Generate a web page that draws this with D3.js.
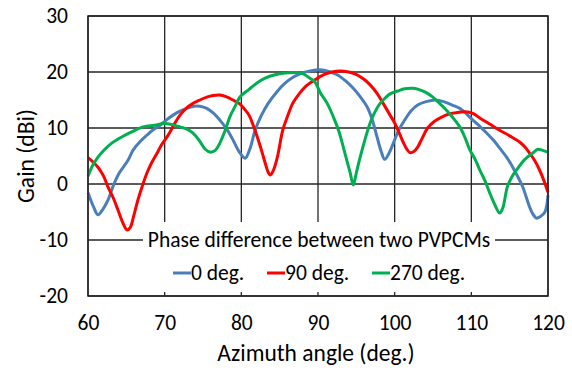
<!DOCTYPE html>
<html>
<head>
<meta charset="utf-8">
<script src="https://cdn.jsdelivr.net/npm/d3@7"></script>
<style>
  body { margin: 0; background: #fff; }
  svg { font-family: Carlito, "Open Sans", sans-serif; }
</style>
</head>
<body>
<svg id="chart" width="572" height="370"></svg>
<script>
// gain vs azimuth angle, one [angle, gain] list per phase difference
const deg0 = [
  [60,-1.5],[60.7,-4],[61.3,-5.5],[61.9,-4.6],[62.6,-2.9],[63.3,-0.3],[64,1.8],[65.2,4.2],[65.9,6.1],
  [66.8,7.6],[67.7,8.75],[68.5,9.7],[69.4,10.5],[70.2,11.4],[71.1,12.3],[72,13],[72.9,13.5],[73.8,13.9],
  [74.6,13.9],[75.5,13.5],[76.4,12.6],[77.2,11.4],[78.1,9.8],[78.9,7.9],[79.7,5.8],[80.5,4.6],[81.1,6.2],
  [81.8,9.6],[82.6,12.2],[83.5,14.4],[84.6,16.4],[85.7,18],[86.8,19.1],[87.9,19.8],[89,20.2],[90.3,20.4],
  [91.4,20.1],[92.5,19.5],[93.6,18.4],[94.6,17.1],[95.5,15.6],[96.4,13.8],[97.1,11.4],[97.7,8.4],[98.2,6],
  [98.7,4.4],[99.3,5.6],[100,7.9],[100.6,9.8],[101.3,11.4],[102.1,13],[103,14.1],[104.1,14.7],[105.3,15],
  [106.4,14.7],[107.5,14.1],[108.5,13.5],[109.3,12.6],[110.2,11.4],[111.1,10.3],[112,9.1],[112.9,7.8],
  [113.7,6.4],[114.6,4.8],[115.4,3],[116.1,1.2],[116.7,-0.5],[117.2,-2.5],[117.6,-4.1],[118,-5.3],
  [118.5,-6.1],[119,-5.8],[119.6,-5],[120,-2]
];
const deg90 = [
  [60,4.7],[60.6,4],[61.3,3],[62,1.5],[62.6,-0.5],[63.3,-2.5],[63.9,-4.6],[64.5,-6.8],[65.1,-8.2],
  [65.5,-7.8],[66,-5.5],[66.5,-2.9],[67.1,-0.3],[67.7,2],[68.3,3.8],[69,5.5],[69.6,7],[70.2,8.2],
  [70.7,9.3],[71.3,10.8],[72,12.3],[72.8,13.5],[73.7,14.4],[74.6,15],[75.5,15.5],[76.3,15.8],[77.2,15.9],
  [78,15.6],[78.9,15],[79.8,14.3],[80.4,13.4],[81,12.3],[81.6,10.3],[82.2,7.9],[82.7,5.7],[83.1,3.8],
  [83.5,2.1],[83.8,1.6],[84.2,2.5],[84.7,4.8],[85.4,9.6],[86,12],[86.7,14.4],[87.5,16],[88.3,17.3],
  [89.6,18.6],[90.7,19.5],[91.8,20],[92.9,20.2],[94,20],[95.1,19.5],[96,18.7],[96.8,17.7],[97.7,16.2],
  [98.5,14.4],[99.4,12.3],[100,10.9],[100.6,9.1],[101.1,7.5],[101.6,6.2],[102,5.6],[102.5,5.8],[103,6.6],
  [103.6,8.2],[104.3,10],[105.2,11.2],[106.2,12],[107.1,12.5],[107.9,12.7],[109.2,12.9],[110.2,12.6],
  [111.1,11.8],[112.4,10.7],[113.7,9.6],[115,8.6],[116.3,7.5],[117,6.6],[117.6,5.5],[118.3,4.1],
  [118.9,2.5],[119.5,0.5],[120,-1.5]
];
const deg270 = [
  [60,1.4],[60.6,3.3],[61.3,4.8],[62.2,6.2],[63.1,7.3],[64.4,8.4],[65.7,9.3],[67.2,10.2],[68.7,10.5],
  [70,10.8],[71,10.6],[72,10.2],[72.9,9.8],[73.7,9.1],[74.5,7.8],[75.3,6.2],[75.9,5.7],[76.6,6],[77.2,7.3],
  [77.9,9.6],[78.5,12],[79.2,13.9],[79.8,15.5],[81,16.9],[82,18],[83.1,18.9],[84.4,19.5],[85.7,19.8],
  [86.8,19.9],[87.9,19.8],[88.8,19],[89.6,18.2],[90.3,16.3],[91.2,14.4],[92,12],[92.7,9.5],[93.3,6.6],
  [93.8,4],[94.2,2],[94.6,-0.2],[95,2],[95.5,4.8],[96.1,7.8],[96.8,10.9],[97.4,12.8],[98.1,14.4],
  [98.8,15.4],[99.4,16.1],[100.4,16.6],[101.3,17],[102.3,17.1],[103.1,16.9],[104,16.4],[104.9,15.6],
  [105.7,14.6],[106.6,13.4],[107.5,12],[108.5,10.2],[109.2,8.2],[109.8,6.1],[110.5,4.4],[111.1,2.5],
  [111.8,0.5],[112.4,-1.6],[113,-3.5],[113.7,-5.2],[114.1,-4.3],[114.7,-0.5],[115.3,1.3],[115.9,2.5],
  [116.6,3.8],[117.3,4.8],[118,5.5],[118.7,6.2],[119.3,6],[120,5.7]
];

const seriesNames = ['0 deg.', '90 deg.', '270 deg.'];
const seriesColors = ['#4a7ebb', '#ff0000', '#00b050'];
const xTicks = [60, 70, 80, 90, 100, 110, 120];
const yTicks = [-20, -10, 0, 10, 20, 30];

const svg = d3.select('#chart');
const plotL = 88, plotR = 548, plotT = 16, plotB = 296;

const x = d3.scaleLinear().domain([60, 120]).range([plotL, plotR]);
const y = d3.scaleLinear().domain([-20, 30]).range([plotB, plotT]);

// grid
const grid = svg.append('g').attr('stroke', '#262626').attr('stroke-width', 1.3);
grid.selectAll('.gx').data(xTicks).enter().append('line')
  .attr('x1', d => x(d)).attr('x2', d => x(d))
  .attr('y1', plotT).attr('y2', plotB);
grid.selectAll('.gy').data(yTicks).enter().append('line')
  .attr('x1', plotL).attr('x2', plotR)
  .attr('y1', d => y(d)).attr('y2', d => y(d));

// curves
const line = d3.line().x(d => x(d[0])).y(d => y(d[1])).curve(d3.curveCatmullRom);
[deg0, deg90, deg270].forEach((data, i) => {
  svg.append('path')
    .attr('d', line(data))
    .attr('fill', 'none')
    .attr('stroke', seriesColors[i])
    .attr('stroke-width', 3)
    .attr('stroke-linejoin', 'round');
});

// axes labels (plain hyphen for negatives, like the original)
const xAxis = svg.append('g')
  .attr('transform', `translate(0,${plotB})`)
  .call(d3.axisBottom(x).tickValues(xTicks).tickFormat(d => String(d)).tickSize(0).tickPadding(19));
const yAxis = svg.append('g')
  .attr('transform', `translate(${plotL},0)`)
  .call(d3.axisLeft(y).tickValues(yTicks).tickFormat(d => String(d)).tickSize(0).tickPadding(20));
[xAxis, yAxis].forEach(a => {
  a.select('.domain').remove();
  a.attr('font-family', null);
  a.selectAll('text').attr('font-size', 21.5).attr('fill', '#000');
});

svg.append('text')
  .attr('x', (plotL + plotR) / 2 - 2).attr('y', 361)
  .attr('text-anchor', 'middle').attr('font-size', 23.5)
  .text('Azimuth angle (deg.)');
svg.append('text')
  .attr('transform', `translate(34,${(plotT + plotB) / 2}) rotate(-90)`)
  .attr('text-anchor', 'middle').attr('font-size', 23.5)
  .text('Gain (dBi)');

// legend
const legend = svg.append('g');
legend.append('rect')
  .attr('x', 143).attr('y', 222).attr('width', 352).attr('height', 70)
  .attr('fill', '#fff');
legend.append('text')
  .attr('x', 319).attr('y', 247)
  .attr('text-anchor', 'middle').attr('font-size', 21.5)
  .text('Phase difference between two PVPCMs');

const itemX = [173, 267, 372];
seriesNames.forEach((name, i) => {
  legend.append('line')
    .attr('x1', itemX[i]).attr('x2', itemX[i] + 18)
    .attr('y1', 273).attr('y2', 273)
    .attr('stroke', seriesColors[i]).attr('stroke-width', 3);
  legend.append('text')
    .attr('x', itemX[i] + 18).attr('y', 280)
    .attr('font-size', 21.5)
    .text(name);
});

// plot border
svg.append('rect')
  .attr('x', plotL).attr('y', plotT).attr('width', plotR - plotL).attr('height', plotB - plotT)
  .attr('fill', 'none').attr('stroke', '#262626').attr('stroke-width', 1.5);
</script>
</body>
</html>
